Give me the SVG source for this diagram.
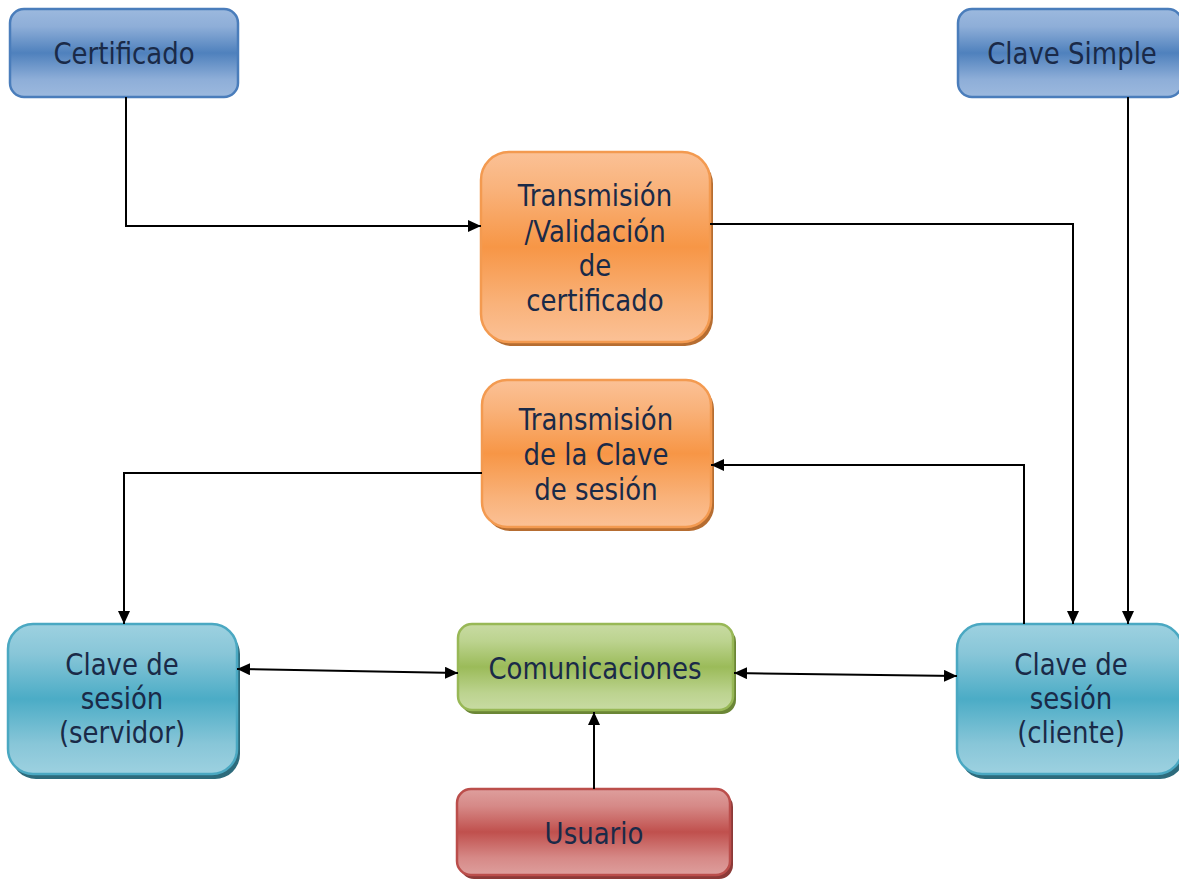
<svg xmlns="http://www.w3.org/2000/svg" width="1179" height="879" viewBox="0 0 1179 879">
<defs>
<linearGradient id="gBlue" x1="0" y1="0" x2="0" y2="1"><stop offset="0" stop-color="#9cb9de"/><stop offset="0.2" stop-color="#8eaed8"/><stop offset="0.5" stop-color="#4f81bd"/><stop offset="0.8" stop-color="#8eaed8"/><stop offset="1" stop-color="#9cb9de"/></linearGradient>
<linearGradient id="gOrange" x1="0" y1="0" x2="0" y2="1"><stop offset="0" stop-color="#fbc196"/><stop offset="0.2" stop-color="#f9b27a"/><stop offset="0.5" stop-color="#f79646"/><stop offset="0.8" stop-color="#f9b27a"/><stop offset="1" stop-color="#fbc196"/></linearGradient>
<linearGradient id="gCyan" x1="0" y1="0" x2="0" y2="1"><stop offset="0" stop-color="#9dd1e0"/><stop offset="0.2" stop-color="#88c6d8"/><stop offset="0.5" stop-color="#4bacc6"/><stop offset="0.8" stop-color="#88c6d8"/><stop offset="1" stop-color="#9dd1e0"/></linearGradient>
<linearGradient id="gGreen" x1="0" y1="0" x2="0" y2="1"><stop offset="0" stop-color="#c8dba3"/><stop offset="0.2" stop-color="#bcd38f"/><stop offset="0.5" stop-color="#9bbb59"/><stop offset="0.8" stop-color="#bcd38f"/><stop offset="1" stop-color="#c8dba3"/></linearGradient>
<linearGradient id="gRed" x1="0" y1="0" x2="0" y2="1"><stop offset="0" stop-color="#de9f9d"/><stop offset="0.2" stop-color="#d68987"/><stop offset="0.5" stop-color="#c0504d"/><stop offset="0.8" stop-color="#d68987"/><stop offset="1" stop-color="#de9f9d"/></linearGradient>
<marker id="arr" viewBox="0 0 13 12" refX="13" refY="6" markerWidth="13" markerHeight="12" markerUnits="userSpaceOnUse" orient="auto-start-reverse"><path d="M0,0 L13,6 L0,12 z" fill="#000"/></marker>
<style>
text{font-family:"DejaVu Sans",sans-serif;font-size:26px;fill:#1a2a48;text-anchor:middle}
.conn path{fill:none;stroke:#000;stroke-width:2}
.blue{fill:url(#gBlue);stroke:#4a7dbb;stroke-width:2.5}
.orange{fill:url(#gOrange);stroke:#f39a50;stroke-width:2.5}
.cyan{fill:url(#gCyan);stroke:#4aa8c2;stroke-width:2.5}
.green{fill:url(#gGreen);stroke:#98b856;stroke-width:2.5}
.red{fill:url(#gRed);stroke:#bb4e4b;stroke-width:2.5}
.shO{fill:#b66d31}.shC{fill:#2d6b7c}.shG{fill:#6b8636}.shR{fill:#8c3a38}
</style>
</defs>
<g id="certificado"><rect class="blue" x="10" y="9" width="228" height="88" rx="14"/><text transform="translate(124,64) scale(1,1.13)">Certificado</text></g>
<g id="clave-simple"><rect class="blue" x="958" y="9" width="224" height="88" rx="14"/><text transform="translate(1072,64) scale(1,1.13)">Clave Simple</text></g>
<g id="trans-valid"><rect class="shO" x="484" y="156" width="229" height="190" rx="28"/><rect class="orange" x="481" y="152" width="229" height="190" rx="28"/>
<text transform="translate(595,206) scale(1,1.13)">Transmisión</text><text transform="translate(595,242) scale(1,1.13)">/Validación</text><text transform="translate(595,276) scale(1,1.13)">de</text><text transform="translate(595,311) scale(1,1.13)">certificado</text></g>
<g id="trans-clave"><rect class="shO" x="485" y="384" width="229" height="147" rx="25"/><rect class="orange" x="482" y="380" width="229" height="147" rx="25"/>
<text transform="translate(596,430) scale(1,1.13)">Transmisión</text><text transform="translate(596,465) scale(1,1.13)">de la Clave</text><text transform="translate(596,500) scale(1,1.13)">de sesión</text></g>
<g id="servidor"><rect class="shC" x="11" y="629" width="229" height="150" rx="25"/><rect class="cyan" x="8" y="624" width="229" height="150" rx="25"/>
<text transform="translate(122,675) scale(1,1.13)">Clave de</text><text transform="translate(122,709) scale(1,1.13)">sesión</text><text transform="translate(122,743) scale(1,1.13)">(servidor)</text></g>
<g id="comunicaciones"><rect class="shG" x="461" y="628" width="275" height="86" rx="14"/><rect class="green" x="458" y="624" width="275" height="86" rx="14"/><text transform="translate(595,679) scale(1,1.13)">Comunicaciones</text></g>
<g id="cliente"><rect class="shC" x="960" y="629" width="225" height="150" rx="25"/><rect class="cyan" x="957" y="624" width="225" height="150" rx="25"/>
<text transform="translate(1071,675) scale(1,1.13)">Clave de</text><text transform="translate(1071,709) scale(1,1.13)">sesión</text><text transform="translate(1071,743) scale(1,1.13)">(cliente)</text></g>
<g id="usuario"><rect class="shR" x="460" y="793" width="273" height="86" rx="14"/><rect class="red" x="457" y="789" width="273" height="86" rx="14"/><text transform="translate(594,844) scale(1,1.13)">Usuario</text></g>
<g class="conn" id="connectors">
<path d="M126,97 V226 H481" marker-end="url(#arr)"/>
<path d="M710,224 H1073 V624" marker-end="url(#arr)"/>
<path d="M1128,97 V624" marker-end="url(#arr)"/>
<path d="M1024,624 V465 H711" marker-end="url(#arr)"/>
<path d="M482,473 H124 V624" marker-end="url(#arr)"/>
<path d="M237,669 L458,673" marker-start="url(#arr)" marker-end="url(#arr)"/>
<path d="M734,673 L957,676" marker-start="url(#arr)" marker-end="url(#arr)"/>
<path d="M594,789 V712" marker-end="url(#arr)"/>
</g>
</svg>
